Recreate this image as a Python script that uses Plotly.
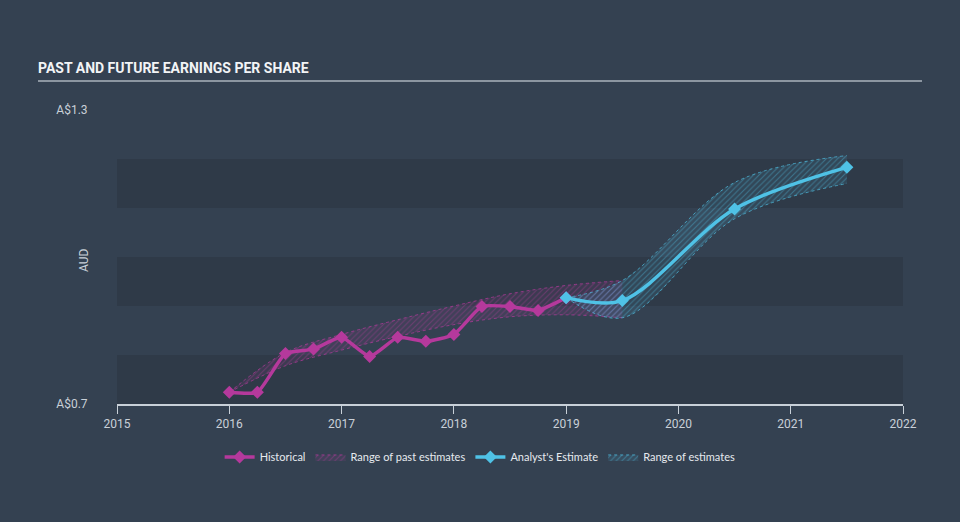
import plotly.graph_objects as go

# ── data ───────────────────────────────────────────────────────
hist_x = [2016.0, 2016.25, 2016.5, 2016.75, 2017.0, 2017.25, 2017.5,
          2017.75, 2018.0, 2018.25, 2018.5, 2018.75, 2019.0]
hist_eps = [0.724, 0.724, 0.803, 0.812, 0.836, 0.797, 0.836,
            0.828, 0.842, 0.899, 0.899, 0.891, 0.917]

past_x = [2016.0, 2016.5, 2017.0, 2017.5, 2018.0, 2018.5, 2019.0, 2019.5]
past_high = [0.724, 0.805, 0.842, 0.872, 0.900, 0.925, 0.942, 0.952]
past_low = [0.724, 0.778, 0.810, 0.838, 0.862, 0.878, 0.882, 0.876]

est_x = [2019.0, 2019.5, 2020.5, 2021.5]
est_eps = [0.917, 0.911, 1.098, 1.183]
est_high = [0.917, 0.952, 1.152, 1.207]
est_low = [0.917, 0.876, 1.078, 1.150]

MAGENTA = "#b5399c"
CYAN = "#4fc2e6"
BG = "#344151"
BAND = "#2f3a48"
TXT = "#c9d0d8"

fig = go.Figure()

# ── range of past estimates ─────────────────────────────────────
fig.add_trace(go.Scatter(
    x=past_x, y=past_low, mode="lines",
    line=dict(color="rgba(181,57,156,0.7)", width=1, dash="dot", shape="spline"),
    showlegend=False, hoverinfo="skip",
))
fig.add_trace(go.Scatter(
    x=past_x, y=past_high, mode="lines", fill="tonexty",
    name="Range of past estimates", legendrank=2,
    line=dict(color="rgba(181,57,156,0.7)", width=1, dash="dot", shape="spline"),
    fillcolor="rgba(181,57,156,0.12)",
    fillpattern=dict(shape="/", fgcolor="rgba(181,57,156,0.75)",
                     bgcolor="rgba(181,57,156,0.10)", size=4, solidity=0.25),
    hoverinfo="skip",
))

# ── range of estimates ──────────────────────────────────────────
fig.add_trace(go.Scatter(
    x=est_x, y=est_low, mode="lines",
    line=dict(color="rgba(79,194,230,0.7)", width=1, dash="dot", shape="spline"),
    showlegend=False, hoverinfo="skip",
))
fig.add_trace(go.Scatter(
    x=est_x, y=est_high, mode="lines", fill="tonexty",
    name="Range of estimates", legendrank=4,
    line=dict(color="rgba(79,194,230,0.7)", width=1, dash="dot", shape="spline"),
    fillcolor="rgba(79,194,230,0.12)",
    fillpattern=dict(shape="/", fgcolor="rgba(79,194,230,0.75)",
                     bgcolor="rgba(79,194,230,0.10)", size=4, solidity=0.25),
    hoverinfo="skip",
))

# ── lines ───────────────────────────────────────────────────────
fig.add_trace(go.Scatter(
    x=hist_x, y=hist_eps, mode="lines+markers", name="Historical", legendrank=1,
    line=dict(color=MAGENTA, width=3.5, shape="spline", smoothing=0.5),
    marker=dict(symbol="diamond", size=10, color=MAGENTA),
))
fig.add_trace(go.Scatter(
    x=est_x, y=est_eps, mode="lines+markers", name="Analyst's Estimate", legendrank=3,
    line=dict(color=CYAN, width=3.5, shape="spline", smoothing=0.9),
    marker=dict(symbol="diamond", size=10, color=CYAN),
))

# ── background bands ────────────────────────────────────────────
for y0 in (0.7, 0.9, 1.1):
    fig.add_shape(type="rect", xref="paper", x0=0, x1=1, y0=y0, y1=y0 + 0.1,
                  fillcolor=BAND, line_width=0, layer="below")

# title underline
fig.add_shape(type="line", xref="paper", yref="paper",
              x0=-0.1005, x1=1.0242, y0=1.0986, y1=1.0986,
              line=dict(color="#aab3bd", width=1.5))

fig.add_annotation(text="AUD", xref="paper", yref="paper", x=-0.0534, y=0.49,
                   textangle=-90, showarrow=False,
                   font=dict(family="Roboto", size=12, color=TXT))

fig.update_layout(
    width=960, height=522,
    paper_bgcolor=BG, plot_bgcolor=BG,
    margin=dict(l=117, r=57, t=110, b=118),
    title=dict(text="<b>PAST AND FUTURE EARNINGS PER SHARE</b>",
               xref="container", x=0.0396, y=0.87, yanchor="middle",
               font=dict(family="Roboto", size=14, color="#f2f4f6")),
    xaxis=dict(range=[2015, 2022], tickvals=list(range(2015, 2023)),
               showgrid=False, zeroline=False, showline=True,
               linecolor="#c8d0d8", linewidth=1.5,
               ticks="outside", ticklen=8, tickcolor="#c8d0d8",
               tickfont=dict(family="Roboto", size=12, color=TXT)),
    yaxis=dict(range=[0.7, 1.3], tickvals=[0.7, 1.3], ticktext=["A$0.7", "A$1.3"],
               showgrid=False, zeroline=False, showline=False,
               ticks="outside", ticklen=26, tickcolor="rgba(0,0,0,0)",
               tickfont=dict(family="Roboto", size=12, color=TXT)),
    legend=dict(orientation="h", x=0.462, xanchor="center", y=-0.18, yanchor="middle",
                font=dict(family="Lato", size=11, color="#e6eaee"),
                itemwidth=30, bgcolor="rgba(0,0,0,0)", traceorder="normal"),
    showlegend=True,
)

fig.write_html("out.html", config={"displayModeBar": False},
               post_script="document.body.style.margin='0';"
                           "document.body.style.background='" + BG + "';")
